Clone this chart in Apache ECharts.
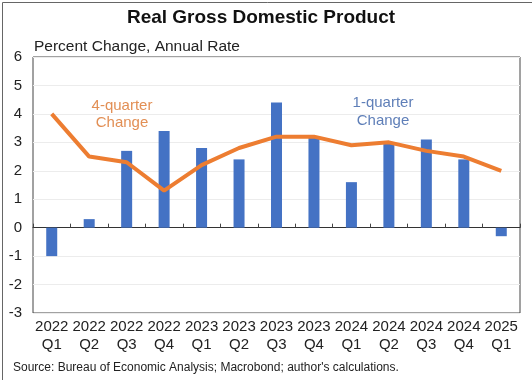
<!DOCTYPE html>
<html><head><meta charset="utf-8">
<script src="https://cdn.jsdelivr.net/npm/echarts@6/dist/echarts.min.js"></script>
<style>html,body{margin:0;padding:0;background:#fff}#c{width:532px;height:380px}</style>
</head><body><div id="c"></div>
<script>
const years = ['2022','2022','2022','2022','2023','2023','2023','2023','2024','2024','2024','2024','2025'];
const quarters = ['Q1','Q2','Q3','Q4','Q1','Q2','Q3','Q4','Q1','Q2','Q3','Q4','Q1'];
const oneQuarter = [-1.0, 0.3, 2.7, 3.4, 2.8, 2.4, 4.4, 3.2, 1.6, 3.0, 3.1, 2.4, -0.3];
const fourQuarter = [4.0, 2.5, 2.3, 1.3, 2.2, 2.8, 3.2, 3.2, 2.9, 3.0, 2.7, 2.5, 2.0];
const yTicks = [-3, -2, -1, 0, 1, 2, 3, 4, 5, 6];

const categories = years.map((y, i) => y + '\n' + quarters[i]);
const FONT = '"Liberation Sans", Arial, sans-serif';
const chart = echarts.init(document.getElementById('c'), null, {renderer: 'canvas'});
chart.setOption({
  animation: false,
  backgroundColor: '#fff',
  grid: {left: 33, right: 12, top: 57, bottom: 67, show: true, borderColor: '#444', borderWidth: 1},
  xAxis: [
    {type: 'category', data: categories, boundaryGap: true,
     axisLine: {onZero: true, lineStyle: {color: '#333', width: 1}},
     axisTick: {show: true, inside: true, length: 4, interval: 0, lineStyle: {color: '#444'}},
     axisLabel: {show: false}, splitLine: {show: false}},
    {type: 'category', data: categories, position: 'bottom', boundaryGap: true,
     axisLine: {show: false, onZero: false}, axisTick: {show: false},
     axisLabel: {interval: 0, fontFamily: FONT, fontSize: 15, color: '#222', lineHeight: 18, margin: 5}}
  ],
  yAxis: {type: 'value', min: yTicks[0], max: yTicks[yTicks.length - 1], interval: 1,
    axisLine: {show: false}, axisTick: {show: false},
    axisLabel: {fontFamily: FONT, fontSize: 15, color: '#222', margin: 11},
    splitLine: {show: true, lineStyle: {color: '#ececec', width: 1}}},
  series: [
    {type: 'bar', xAxisIndex: 0, data: oneQuarter, barWidth: 11, itemStyle: {color: '#4472C4'}},
    {type: 'line', xAxisIndex: 0, data: fourQuarter, symbol: 'none', lineStyle: {color: '#ED7D31', width: 4}, z: 3}
  ],
  graphic: [
    {type: 'rect', left: 0, top: 0, shape: {width: 531, height: 379}, style: {fill: 'none', stroke: '#666', lineWidth: 1}, silent: true},
    {type: 'text', x: 261, y: 18, style: {text: 'Real Gross Domestic Product', font: 'bold 19px ' + FONT, fill: '#111', textAlign: 'center', textVerticalAlign: 'middle'}},
    {type: 'text', x: 34, y: 47, style: {text: 'Percent Change, Annual Rate', font: '15.5px ' + FONT, fill: '#222', textAlign: 'left', textVerticalAlign: 'middle'}},
    {type: 'text', x: 122, y: 114, style: {text: '4-quarter\nChange', font: '15px ' + FONT, fill: '#E28F55', textAlign: 'center', textVerticalAlign: 'middle', lineHeight: 17}},
    {type: 'text', x: 383, y: 112, style: {text: '1-quarter\nChange', font: '15px ' + FONT, fill: '#5F7FB8', textAlign: 'center', textVerticalAlign: 'middle', lineHeight: 18}},
    {type: 'text', x: 13, y: 368, style: {text: "Source: Bureau of Economic Analysis; Macrobond; author's calculations.", font: '12px ' + FONT, fill: '#222', textAlign: 'left', textVerticalAlign: 'middle'}}
  ]
});
</script></body></html>
